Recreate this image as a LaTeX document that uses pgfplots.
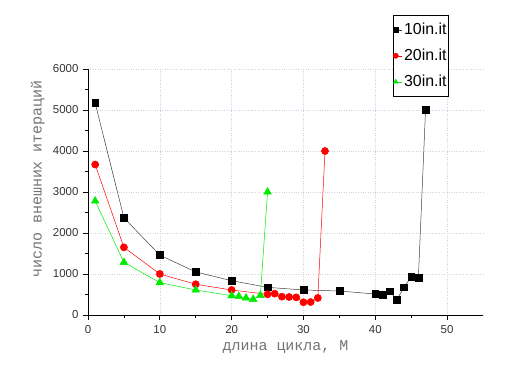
\documentclass[border=0pt]{standalone}
\usepackage{fontspec}
\setmainfont{Liberation Sans}
\newfontfamily\monofont{Liberation Mono}
\usepackage{pgfplots}
\pgfplotsset{compat=1.18}
\definecolor{gridc}{RGB}{210,210,230}
\definecolor{lgreen}{RGB}{0,235,0}
\begin{document}
\begin{tikzpicture}
\path[use as bounding box] (-88bp,-63bp) rectangle (440bp,315bp);
\begin{axis}[
  scale only axis, width=395bp, height=246bp,
  xmin=0, xmax=55, ymin=0, ymax=6000,
  axis x line=bottom, axis y line=left,
  axis line style={-, line width=0.8pt},
  xtick={0,10,20,30,40,50}, minor x tick num=1,
  ytick={0,1000,2000,3000,4000,5000,6000}, minor y tick num=1,
  tick align=outside,
  major tick length=5bp, minor tick length=3bp,
  tick style={line width=0.7pt, black},
  grid=major, major grid style={gridc, dotted, line width=0.6pt},
  /pgf/number format/assume math mode=true,
  /pgf/number format/1000 sep={},
  tick label style={font=\fontsize{11.5}{13}\selectfont, text=black!80},
  xticklabel style={yshift=-2bp},
  yticklabel style={xshift=-1bp},
  xlabel={длина цикла, M},
  ylabel={число внешних итераций},
  label style={font=\monofont\fontsize{15}{17}\selectfont, text=black!55},
  xlabel style={at={(axis description cs:0.5,-0.13)}, anchor=center},
  ylabel style={at={(axis description cs:-0.127,0.553)}, anchor=center, rotate=0},
  legend style={at={(axis description cs:0.772,1.2195)}, anchor=north west,
    draw=black, line width=0.5pt, font=\fontsize{16}{18}\selectfont,
    inner xsep=0pt, inner ysep=6bp, row sep=9bp, cells={anchor=west}},
  legend image code/.code={\draw[#1,mark size=2.6bp,mark repeat=2,mark phase=1] plot coordinates {(0bp,0bp)(6bp,0bp)};},
  clip=false,
]
\addplot[black!75, line width=0.5pt, mark=square*, mark size=3.4bp, mark options={black, solid}] coordinates {
(1,5170)(5,2370)(10,1460)(15,1050)(20,837)(25,675)(30,610)(35,585)(40,512)(41,488)(42,578)(43,375)(44,675)(45,927)(46,902)(47,5000)};
\addlegendentry{10in.it}
\addplot[red, line width=0.5pt, mark=*, mark size=3.6bp, mark options={red, solid}] coordinates {
(1,3670)(5,1650)(10,1000)(15,750)(20,610)(25,505)(26,520)(27,447)(28,439)(29,430)(30,310)(31,317)(32,415)(33,4000)};
\addlegendentry{20in.it}
\addplot[lgreen, line width=0.5pt, mark=triangle*, mark size=4.4bp, mark options={lgreen, solid}] coordinates {
(1,2780)(5,1285)(10,790)(15,610)(20,470)(21,455)(22,415)(23,382)(24,480)(25,3000)};
\addlegendentry{30in.it}
\end{axis}
\end{tikzpicture}
\end{document}
